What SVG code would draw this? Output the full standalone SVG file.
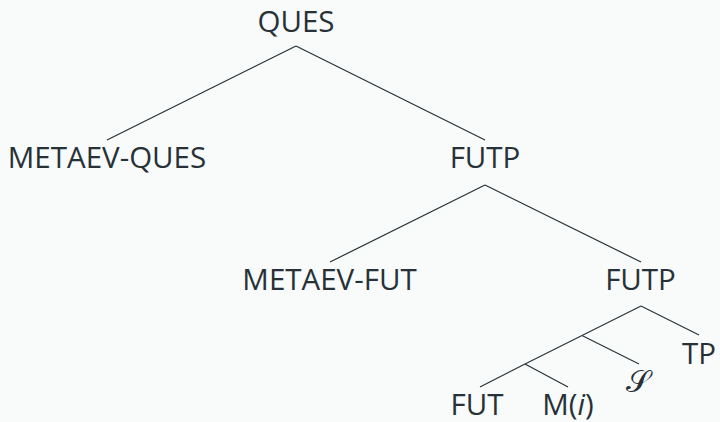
<svg xmlns="http://www.w3.org/2000/svg" width="720" height="422" viewBox="0 0 720 422">
<style>
.t{font-family:"Open Sans","Noto Sans",sans-serif;font-size:29.5px;fill:#263238;text-anchor:middle}
.e{stroke:#263238;stroke-width:1.2;fill:none}
.s{font-family:"DejaVu Serif","Liberation Serif",serif;font-size:31px;fill:#263238;text-anchor:middle}
</style>
<rect width="720" height="422" fill="#f9fafa"/>
<g id="connectors">
<line class="e" x1="296" y1="46" x2="107" y2="140"/>
<line class="e" x1="296" y1="46" x2="485" y2="140"/>
<line class="e" x1="485" y1="185" x2="330" y2="262"/>
<line class="e" x1="485" y1="185" x2="641" y2="262"/>
<line class="e" x1="641" y1="306" x2="699" y2="335"/>
<line class="e" x1="641" y1="306" x2="582" y2="335.5"/>
<line class="e" x1="582" y1="335.5" x2="639" y2="364"/>
<line class="e" x1="582" y1="335.5" x2="525" y2="364"/>
<line class="e" x1="525" y1="364" x2="568" y2="387"/>
<line class="e" x1="525" y1="364" x2="480" y2="387"/>
</g>
<g id="n-ques"><text class="t" x="296" y="31.5">QUES</text></g>
<g id="n-metaev-ques"><text class="t" x="107" y="168">METAEV-QUES</text></g>
<g id="n-futp1"><text class="t" x="485" y="168">FUTP</text></g>
<g id="n-metaev-fut"><text class="t" x="329.5" y="290">METAEV-FUT</text></g>
<g id="n-futp2"><text class="t" x="640.5" y="290">FUTP</text></g>
<g id="n-tp"><text class="t" x="699" y="364">TP</text></g>
<g id="n-s"><text class="s" x="638" y="392">𝒮</text></g>
<g id="n-fut"><text class="t" x="477" y="414.5">FUT</text></g>
<g id="n-m"><text class="t" x="568" y="414.5">M(<tspan font-style="italic">i</tspan>)</text></g>
</svg>
